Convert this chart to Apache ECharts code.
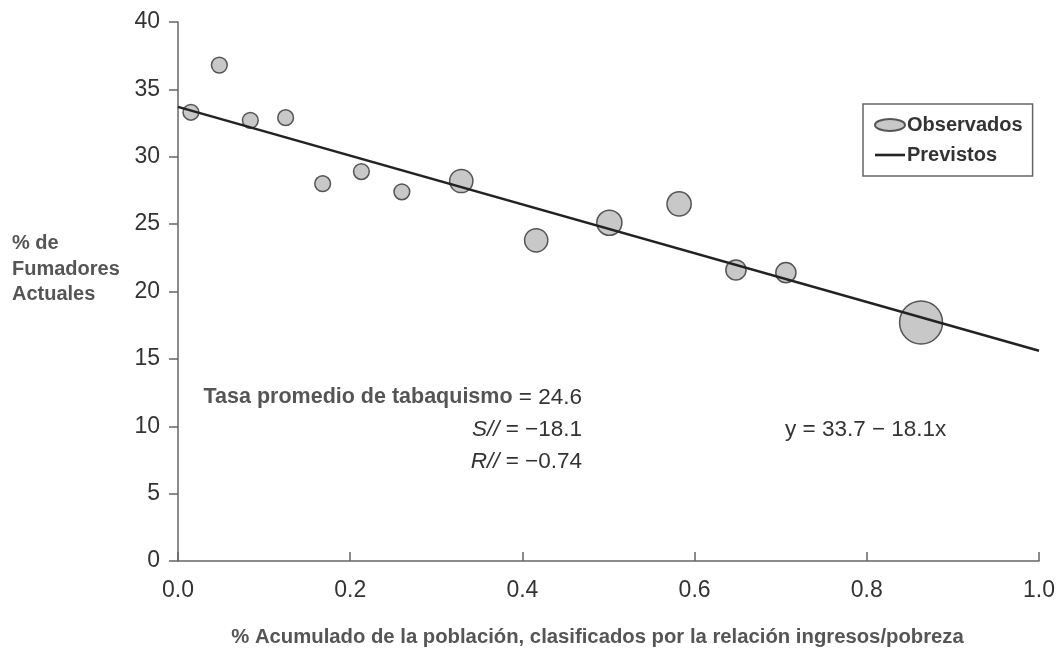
<!DOCTYPE html>
<html>
<head>
<meta charset="utf-8">
<script src="https://cdn.jsdelivr.net/npm/echarts@6/dist/echarts.min.js"></script>
<style>
html,body{margin:0;padding:0;background:#fff;}
#chart{width:1058px;height:652px;}
</style>
</head>
<body>
<div id="chart"></div>
<script>
// Observed points
const poblacionAcum = [0.015, 0.048, 0.084, 0.125, 0.168, 0.213, 0.260, 0.329, 0.416, 0.501, 0.582, 0.648, 0.706, 0.863];
const fumadores     = [33.3, 36.8, 32.7, 32.9, 28.0, 28.9, 27.4, 28.2, 23.8, 25.1, 26.5, 21.6, 21.4, 17.7];
const peso          = [1.1, 1.1, 1.1, 1.1, 1.1, 1.1, 1.1, 2.4, 2.4, 2.8, 2.6, 1.8, 1.8, 8.2];
// Predicted line endpoints (y = 33.7 - 18.1x)
const previstoX = [0, 1];
const previstoY = [33.7, 15.6];
const yTicks = [0, 5, 10, 15, 20, 25, 30, 35, 40];
const xTicks = [0, 0.2, 0.4, 0.6, 0.8, 1.0];

const FONT = "'Liberation Sans', Arial, sans-serif";
const chart = echarts.init(document.getElementById('chart'));

const obsData = poblacionAcum.map((x, i) => [x, fumadores[i], peso[i]]);
const prevData = previstoX.map((x, i) => [x, previstoY[i]]);

chart.setOption({
  animation: false,
  backgroundColor: '#fff',
  grid: { left: 178, right: 16, top: 22, bottom: 86 },
  xAxis: {
    type: 'value', min: 0, max: 1, interval: 0.2,
    splitLine: { show: false },
    axisLine: { lineStyle: { color: '#666', width: 1.5 } },
    axisTick: { inside: true, length: 9, lineStyle: { color: '#666', width: 1.5 } },
    axisLabel: { margin: 18, fontSize: 23, color: '#333', fontFamily: FONT,
      formatter: v => v.toFixed(1) },
    name: '% Acumulado de la población, clasificados por la relación ingresos/pobreza',
    nameLocation: 'middle', nameGap: 66,
    nameTextStyle: { fontSize: 20.3, fontWeight: 'bold', color: '#555', fontFamily: FONT, padding: [0, 22, 0, 0] }
  },
  yAxis: {
    type: 'value', min: 0, max: 40, interval: 5,
    splitLine: { show: false },
    axisLine: { show: true, lineStyle: { color: '#666', width: 1.5 } },
    axisTick: { show: true, length: 9, lineStyle: { color: '#666', width: 1.5 } },
    axisLabel: { margin: 18, fontSize: 23, color: '#333', fontFamily: FONT }
  },
  legend: {
    orient: 'vertical',
    left: 863, top: 104,
    padding: [11, 10, 11, 11],
    itemGap: 10,
    itemWidth: 30, itemHeight: 12,
    symbolKeepAspect: true,
    borderColor: '#666', borderWidth: 1.5,
    textStyle: { fontSize: 20, fontWeight: 'bold', color: '#333', fontFamily: FONT, padding: [0, 0, 0, -3] },
    data: [
      { name: 'Observados', icon: 'path://M0,6A15,6 0 1,0 30,6A15,6 0 1,0 0,6Z' },
      { name: 'Previstos', icon: 'path://M0,0H30V2.6H0Z' }
    ]
  },
  graphic: [
    { type: 'text', right: 1058 - 582, top: 386,
      style: { text: '{b|Tasa promedio de tabaquismo} = 24.6', font: '22.5px ' + FONT, fill: '#333',
        rich: { b: { fontWeight: 'bold', fontSize: 21.5, fill: '#555', fontFamily: FONT } } } },
    { type: 'text', right: 1058 - 582, top: 418,
      style: { text: '{i|S//} = \u221218.1', font: '22.5px ' + FONT, fill: '#333',
        rich: { i: { fontStyle: 'italic', fontSize: 22.5, fontFamily: FONT } } } },
    { type: 'text', right: 1058 - 582, top: 450,
      style: { text: '{i|R//} = \u22120.74', font: '22.5px ' + FONT, fill: '#333',
        rich: { i: { fontStyle: 'italic', fontSize: 22.5, fontFamily: FONT } } } },
    { type: 'text', left: 785, top: 418,
      style: { text: 'y = 33.7 \u2212 18.1x', font: '22.5px ' + FONT, fill: '#333' } },
    { type: 'text', left: 12, top: 231,
      style: { text: '% de\nFumadores\nActuales', font: 'bold 20px ' + FONT, fill: '#555', lineHeight: 25.5 } }
  ],
  series: [
    {
      name: 'Previstos', type: 'line', data: prevData,
      symbol: 'none', showSymbol: false, z: 3,
      lineStyle: { color: '#222', width: 2.5 },
      itemStyle: { color: '#222' }
    },
    {
      name: 'Observados', type: 'scatter', data: obsData, z: 2,
      symbolSize: d => 15 * Math.sqrt(d[2]),
      itemStyle: { color: '#c8c8c8', borderColor: '#555', borderWidth: 1.5, opacity: 1 }
    }
  ]
});
</script>
</body>
</html>
